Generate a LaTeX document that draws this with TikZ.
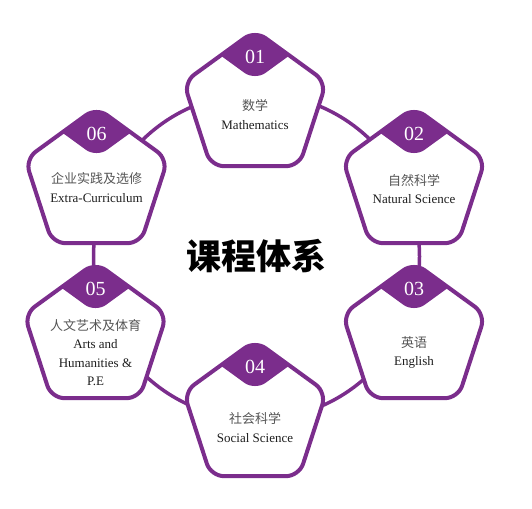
\documentclass[tikz,border=0pt]{standalone}
\usepackage{fontspec}
\setmainfont{Liberation Serif}
\newfontfamily\cjk{Noto Sans CJK SC}
\usetikzlibrary{shapes.geometric,calc}
\definecolor{pur}{RGB}{123,45,140}
\definecolor{cjkgray}{RGB}{85,85,85}
\definecolor{entxt}{RGB}{30,30,30}
\tikzset{
  pent/.style={regular polygon, regular polygon sides=5, minimum size=150pt,
    inner sep=0pt, outer sep=0pt, draw=pur, line width=4pt, fill=white, rounded corners=13pt},
  numtxt/.style={text=white, font=\fontsize{20}{20}\selectfont, inner sep=0pt},
  lbl/.style={align=center, inner sep=0pt, text=entxt, font=\fontsize{13}{18.5}\selectfont},
  ring/.style={draw=pur, line width=3.5pt}
}
\newcommand\cn[1]{{\cjk\color{cjkgray}#1}}
\newcommand\badge[2]{%
  \begin{scope}
    \clip[rounded corners=13pt] ($(#1)+(0,-75)$) -- ($(#1)+(-71.33,-23.18)$) -- ($(#1)+(-44.08,60.68)$) -- ($(#1)+(44.08,60.68)$) -- ($(#1)+(71.33,-23.18)$) -- cycle;
    \fill[pur, rounded corners=13pt] ($(#1)+(0,-25)$) -- ($(#1)+(-71.33,-76.82)$) -- ($(#1)+(-44.08,-160.68)$) -- ($(#1)+(44.08,-160.68)$) -- ($(#1)+(71.33,-76.82)$) -- cycle;
  \end{scope}
  \node[numtxt] (#1n) at ($(#1)+(0,-48.5)$) {#2};
}
\begin{document}
\begin{tikzpicture}[x=1pt,y=-1pt]
\useasboundingbox (0,0) rectangle (532,508);
\coordinate (c) at (256.5,256.5);
\draw[ring] (c) circle (163pt);
\node[font=\cjk\bfseries\fontsize{35}{35}\selectfont, inner sep=0pt] (title) at (256,256) {课程体系};

\node[pent] (p1) at (255,105.5) {};
\node[pent] (p2) at (414,182.5) {};
\node[pent] (p3) at (414,337.5) {};
\node[pent] (p4) at (255,415.5) {};
\node[pent] (p5) at (95.5,337.5) {};
\node[pent] (p6) at (96.5,182.5) {};

\badge{p1}{01}
\badge{p2}{02}
\badge{p3}{03}
\badge{p4}{04}
\badge{p5}{05}
\badge{p6}{06}

\node[lbl] (t1) at ($(p1)+(0,9)$) {\cn{数学}\\Mathematics};
\node[lbl] (t2) at ($(p2)+(0,6.5)$) {\cn{自然科学}\\Natural Science};
\node[lbl] (t3) at ($(p3)+(0,15)$) {\cn{英语}\\English};
\node[lbl] (t4) at ($(p4)+(0,12)$) {\cn{社会科学}\\Social Science};
\node[lbl] (t5) at ($(p5)+(0,15)$) {\cn{人文艺术及体育}\\Arts and\\Humanities \&\\P.E};
\node[lbl] (t6) at ($(p6)+(0,5)$) {\cn{企业实践及选修}\\Extra-Curriculum};
\end{tikzpicture}
\end{document}
